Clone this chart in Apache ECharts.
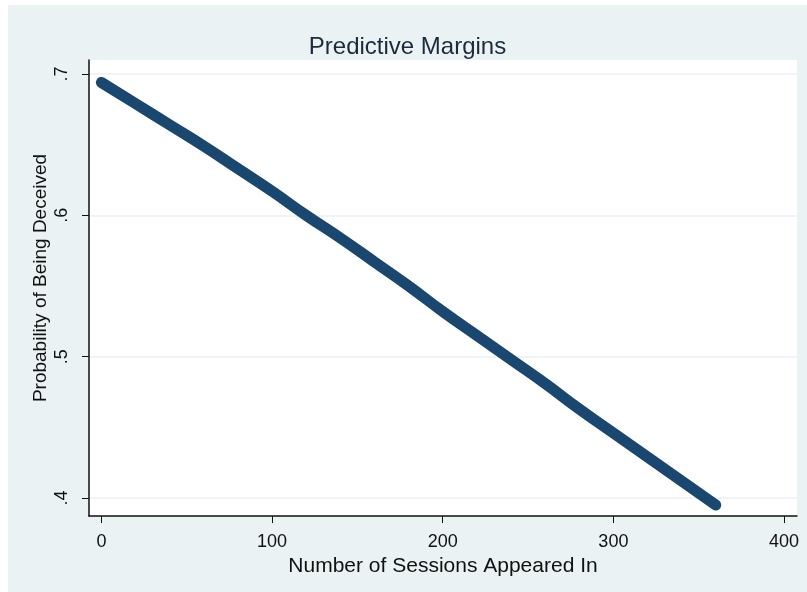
<!DOCTYPE html>
<html>
<head>
<meta charset="utf-8">
<title>Predictive Margins</title>
<script src="https://cdn.jsdelivr.net/npm/echarts@6/dist/echarts.min.js"></script>
<style>
  html, body { margin: 0; padding: 0; background: #fff; }
  .wrap { position: relative; width: 807px; height: 592px; background: #fff; }
  #chart { position: absolute; left: 8px; top: 5px; width: 799px; height: 587px; }
</style>
</head>
<body>
<div class="wrap">
  <div id="chart"></div>
</div>
<script>
// sessions (x) and predicted probability (y)
var sessions = [0, 20, 40, 60, 80, 100, 120, 140, 160, 180, 200, 220, 240, 260, 280, 300, 320, 340, 360];
var probDeceived = [0.694, 0.679, 0.664, 0.649, 0.633, 0.617, 0.600, 0.584, 0.567, 0.550,
  0.532, 0.515, 0.498, 0.481, 0.463, 0.446, 0.429, 0.412, 0.395];

// tick labels
var xTicks = [0, 100, 200, 300, 400];
var yTicks = [0.4, 0.5, 0.6, 0.7];

var chart = echarts.init(document.getElementById('chart'));

var points = [];
sessions.forEach(function (s, i) {
  points.push([s, probDeceived[i]]);
});

var font = 'Liberation Sans, Arial, sans-serif';

var option = {
  backgroundColor: '#eaf2f3',
  animation: false,
  title: {
    text: 'Predictive Margins',
    left: 'center',
    top: 25,
    textStyle: {
      fontFamily: font,
      fontSize: 24,
      fontWeight: 'normal',
      color: '#1b2a3d'
    }
  },
  grid: {
    left: 81,
    top: 55,
    right: 10,
    bottom: 76,
    show: true,
    backgroundColor: '#ffffff',
    borderWidth: 0
  },
  xAxis: {
    type: 'value',
    min: -7.3,
    max: 407.6,
    name: 'Number of Sessions Appeared In',
    nameLocation: 'middle',
    nameGap: 32,
    nameTextStyle: { fontFamily: font, fontSize: 21, color: '#111' },
    axisLine: { show: true, onZero: false, lineStyle: { color: '#111', width: 1.5 } },
    axisTick: { show: true, length: 7, customValues: xTicks, lineStyle: { color: '#111' } },
    axisLabel: {
      customValues: xTicks,
      margin: 17,
      fontFamily: font,
      fontSize: 18,
      color: '#111'
    },
    splitLine: { show: false }
  },
  yAxis: {
    type: 'value',
    min: 0.3873,
    max: 0.7099,
    axisLine: { show: true, onZero: false, lineStyle: { color: '#111', width: 1.5 } },
    axisTick: { show: true, length: 7, customValues: yTicks, lineStyle: { color: '#111' } },
    axisLabel: {
      customValues: yTicks,
      rotate: 90,
      margin: 18,
      fontFamily: font,
      fontSize: 18,
      color: '#111',
      formatter: function (v) {
        return String(v).replace('0.', '.');
      }
    },
    splitLine: { show: true, lineStyle: { color: '#eaf2f3', width: 1.5 } }
  },
  graphic: [
    {
      // y axis title
      type: 'text',
      x: 33,
      y: 273,
      rotation: Math.PI / 2,
      style: {
        text: 'Probability of Being Deceived',
        fontFamily: font,
        fontSize: 19,
        fill: '#111',
        textAlign: 'center',
        textVerticalAlign: 'middle'
      }
    }
  ],
  series: [
    {
      type: 'line',
      data: points,
      smooth: true,
      showSymbol: false,
      lineStyle: { color: '#1a476f', width: 11, cap: 'round', join: 'round' }
    }
  ]
};

chart.setOption(option);
</script>
</body>
</html>
